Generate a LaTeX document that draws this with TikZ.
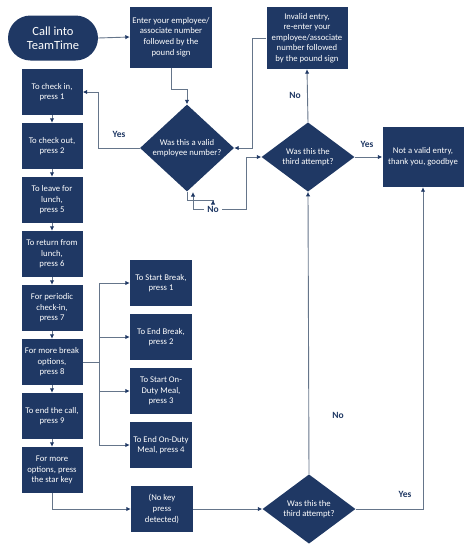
\documentclass[tikz,border=0pt]{standalone}
\usepackage{fontspec}
\setmainfont{Carlito}
\usetikzlibrary{calc}
\usetikzlibrary{shapes.geometric}
\usetikzlibrary{arrows.meta}

\definecolor{navy}{HTML}{1F3864}
\definecolor{wire}{HTML}{65758A}

\begin{document}
\begin{tikzpicture}[x=1pt,y=-1pt]
\tikzstyle{box}=[fill=navy, text=white, rectangle, align=center, inner sep=1pt, minimum width=61pt, minimum height=46pt, font=\fontsize{8.7}{10.6}\selectfont]
\tikzstyle{ask}=[fill=navy, text=white, diamond, align=center, inner sep=0pt, minimum width=93pt, minimum height=68pt, font=\fontsize{8.7}{10.6}\selectfont]
\tikzstyle{arr}=[draw=wire, line width=0.9pt, -{Latex[length=4.5pt,width=4.5pt,color=navy]}]
\tikzstyle{line}=[draw=wire, line width=0.9pt]
\tikzstyle{lbl}=[text=navy, font=\fontsize{9.5}{11}\selectfont\bfseries]

\useasboundingbox (0,0) rectangle (474,552);

\node (call) at (53,38) [fill=navy, text=white, rectangle, rounded corners=22.5pt, minimum width=90pt, minimum height=45pt, align=center, font=\fontsize{12.5}{14}\selectfont] {Call into\\TeamTime};
\node (enter) at (171,37) [box, minimum width=82pt, minimum height=61pt] {Enter your employee/\\associate number\\followed by the\\pound sign};
\node (invalid) at (307,38) [box, minimum width=81pt, minimum height=62pt] {Invalid entry,\\re-enter your\\employee/associate\\number followed\\by the pound sign};
\node (bye) at (423,157) [box, minimum width=81pt, minimum height=60pt] {Not a valid entry,\\thank you, goodbye};

\node (valid) at (187,148) [ask, minimum width=94pt, minimum height=67pt] {Was this a valid\\employee number?};
\node (third) at (308,157) [ask] {Was this the\\third attempt?};
\node (third2) at (309,509) [ask] {Was this the\\third attempt?};

% left column
\node (in1) at (52,92) [box] {To check in,\\press 1};
\node (in2) at (52,146) [box] {To check out,\\press 2};
\node (in3) at (52,200) [box] {To leave for\\lunch,\\press 5};
\node (in4) at (52,254) [box] {To return from\\lunch,\\press 6};
\node (in5) at (52,308) [box] {For periodic\\check-in,\\press 7};
\node (in6) at (52,362) [box] {For more break\\options,\\press 8};
\node (in7) at (52,416) [box] {To end the call,\\press 9};
\node (in8) at (52,470) [box] {For more\\options, press\\the star key};

% break options
\node (sb1) at (161,283) [box, minimum width=62pt] {To Start Break,\\press 1};
\node (sb2) at (161,337) [box, minimum width=62pt] {To End Break,\\press 2};
\node (sb3) at (161,391) [box, minimum width=62pt] {To Start On-\\Duty Meal,\\press 3};
\node (sb4) at (161,445) [box, minimum width=62pt] {To End On-Duty\\Meal, press 4};

\node (nokey) at (162,509) [box, minimum width=62pt] {(No key\\press\\detected)};

% connectors
\draw[arr] (call.east) -- (enter.west);
\draw[arr] (enter.south) -- ++(0,22) -| (valid.north);
\draw[arr] (valid.west) -| ($(in1.east)+(16,0)$) -- (in1.east);
\node[lbl] (yes1) at (119,134) {Yes};

\foreach \a/\b in {in1/in2,in2/in3,in3/in4,in4/in5,in5/in6,in6/in7,in7/in8}
  \draw[arr] (\a.south) -- (\b.north);

\coordinate (br) at (99,362);
\draw[line] (in6.east) -- (br);
\foreach \s in {sb1,sb2,sb3,sb4}
  \draw[arr] (br) |- (\s.west);

\draw[arr] (in8.south) |- (nokey.west);
\draw[arr] (nokey.east) -- (third2.west);

% the No loop under the first question
\node[lbl] (no1) at (213,209) {No};
\coordinate (noA) at (213,200);
\coordinate (noB) at (193,192);
\draw[arr] (valid.south) -- ++(0,9) -| (noA);
\draw[arr] (no1.west) -| (noB);
\draw[arr] (no1.east) -| ($(third.west)+(-15,0)$) -- (third.west);

\draw[arr] (invalid.west) -| ($(valid.east)+(18,0)$) -- (valid.east);

\draw[arr] (third.north) -- (invalid.south);
\node[lbl] (no2) at (295,95) {No};
\draw[arr] (third.east) -- (bye.west);
\node[lbl] (yes2) at (367,144) {Yes};

\draw[arr] (third2.north) -- (third.south);
\node[lbl] (no3) at (338,415) {No};
\draw[arr] (third2.east) -| (bye.south);
\node[lbl] (yes3) at (405,494) {Yes};

\end{tikzpicture}
\end{document}
